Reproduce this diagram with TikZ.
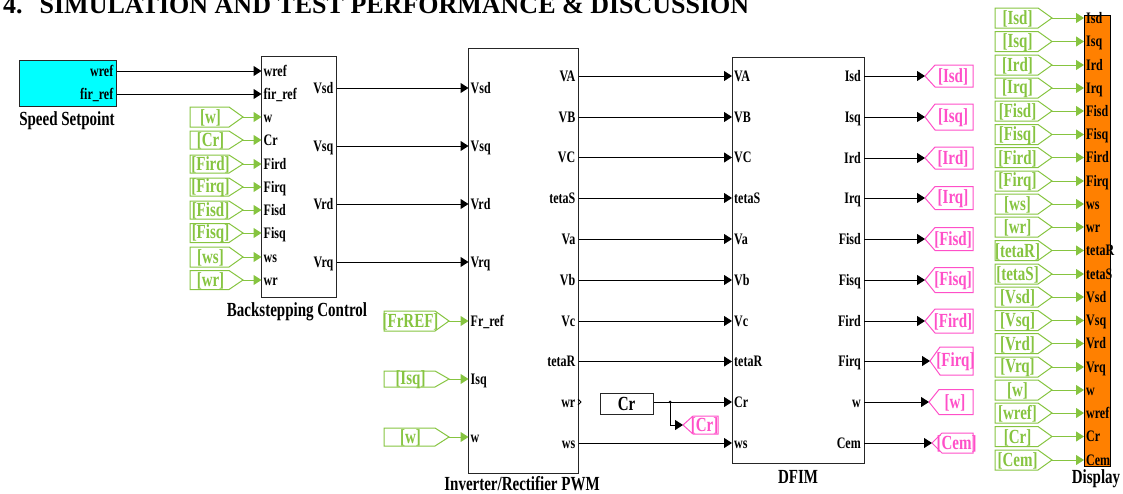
\documentclass[tikz,border=0pt]{standalone}
\usepackage{fontspec}
\setmainfont{Liberation Serif}[FakeStretch=0.75]
\newfontfamily\titlefont{Liberation Serif}
\usetikzlibrary{arrows.meta}
\definecolor{tagg}{HTML}{86C440}
\definecolor{tagp}{HTML}{FF4FC8}
\definecolor{blockorange}{HTML}{FF8000}
\definecolor{blockcyan}{HTML}{00FFFF}
\tikzset{
  x=1pt,y=-1pt,
  block/.style={draw=black!85,line width=1pt},
  pinbase/.style={inner xsep=2pt,inner ysep=0pt,text height=10.5pt,text depth=0pt,font=\fontsize{16}{16}\bfseries\selectfont},
  inpin/.style={pinbase,anchor=west},
  outpin/.style={pinbase,anchor=east,inner xsep=3pt},
  caption/.style={inner sep=0pt,font=\fontsize{20}{20}\bfseries\selectfont},
  sig/.style={line width=1pt,-{Triangle[length=8pt,width=10pt]},black},
  sigg/.style={line width=1pt,-{Triangle[length=8pt,width=10pt]},tagg},
  tagtext/.style={inner sep=0pt,font=\fontsize{20}{20}\bfseries\selectfont},
}
% green source tag: name, left x, tip x, y, half height, text
\newcommand\gtag[6]{%
  \draw[tagg,line width=1pt] (#2,#4-#5) -- (#3-14,#4-#5) -- (#3,#4) -- (#3-14,#4+#5) -- (#2,#4+#5) -- cycle;
  \node[tagtext,text=tagg] (#1) at ({(#2+#3-12)/2},#4+1) {#6};
  \coordinate (#1-tip) at (#3,#4);}
% pink sink tag: name, tip x, right x, y, half height, text
\newcommand\ptag[6]{%
  \draw[tagp,line width=1pt] (#3,#4-#5) -- (#2+10,#4-#5) -- (#2,#4) -- (#2+10,#4+#5) -- (#3,#4+#5) -- cycle;
  \node[tagtext,text=tagp] (#1) at ({(#2+#3+8)/2},#4+1) {#6};
  \coordinate (#1-tip) at (#2,#4);}
\begin{document}
\begin{tikzpicture}
\useasboundingbox (0,0) rectangle (1123,493);
\node[anchor=base west,inner sep=0pt,font=\titlefont\fontsize{26}{26}\bfseries\selectfont] (title) at (3,13.5) {4.\hspace{17pt}SIMULATION AND TEST PERFORMANCE \& DISCUSSION};

% blocks
\node[block,fill=blockcyan,line width=1.4pt,minimum width=97pt,minimum height=46pt,inner sep=0pt] (speed) at (68,83.5) {};
\node[block,fill=white,minimum width=75pt,minimum height=241pt,inner sep=0pt] (back) at (299,176.5) {};
\node[block,fill=white,minimum width=110pt,minimum height=425pt,inner sep=0pt] (inv) at (523.5,260.5) {};
\node[block,fill=white,minimum width=132pt,minimum height=406pt,inner sep=0pt] (dfim) at (798,260) {};
\node[block,fill=blockorange,draw=black,minimum width=26pt,minimum height=451pt,inner sep=0pt] (disp) at (1097,240.5) {};
\node[block,fill=white,minimum width=53pt,minimum height=21pt,inner sep=0pt,font=\fontsize{20}{20}\bfseries\selectfont] (crb) at (626.5,403.5) {Cr};

% captions
\node[caption] (capspeed) at (67,121) {Speed Setpoint};
\node[caption] (capback) at (297,312) {Backstepping Control};
\node[caption] (capinv) at (522,483.5) {Inverter/Rectifier PWM};
\node[caption] (capdfim) at (798,477) {DFIM};
\node[caption] (capdisp) at (1096,479) {Display};

% speed setpoint ports
\node[outpin] (s1) at (116.5,71) {wref};
\node[outpin] (s2) at (116.5,94) {fir\_ref};

% backstepping inputs
\foreach \n/\t/\y in {b1/wref/71,b2/fir\_ref/94,b3/w/117,b4/Cr/140,b5/Fird/164,b6/Firq/187,b7/Fisd/210,b8/Fisq/233,b9/ws/257,b10/wr/280}
  \node[inpin] (\n) at (261.5,\y) {\t};
% backstepping outputs
\foreach \n/\t/\y in {bo1/Vsd/88,bo2/Vsq/146,bo3/Vrd/204,bo4/Vrq/262}
  \node[outpin] (\n) at (336.5,\y) {\t};
% inverter inputs
\foreach \n/\t/\y in {i1/Vsd/88,i2/Vsq/146,i3/Vrd/204,i4/Vrq/262,i5/Fr\_ref/321,i6/Isq/379,i7/w/437}
  \node[inpin] (\n) at (468.5,\y) {\t};
% inverter outputs
\foreach \n/\t/\y in {io1/VA/76,io2/VB/117,io3/VC/157.5,io4/tetaS/198,io5/Va/239,io6/Vb/280,io7/Vc/321,io8/tetaR/361.5,io9/wr/402,io10/ws/443}
  \node[outpin] (\n) at (578.5,\y) {\t};
% dfim inputs
\foreach \n/\t/\y in {d1/VA/76,d2/VB/117,d3/VC/157.5,d4/tetaS/198,d5/Va/239,d6/Vb/280,d7/Vc/321,d8/tetaR/361.5,d9/Cr/402,d10/ws/443}
  \node[inpin] (\n) at (732,\y) {\t};
% dfim outputs
\foreach \n/\t/\y in {do1/Isd/76,do2/Isq/117,do3/Ird/158,do4/Irq/198,do5/Fisd/239,do6/Fisq/280,do7/Fird/321,do8/Firq/361,do9/w/402,do10/Cem/443}
  \node[outpin] (\n) at (864,\y) {\t};

% connectors between blocks
\draw[sig] (s1.east) -- (b1.west);
\draw[sig] (s2.east) -- (b2.west);
\foreach \a/\b in {bo1/i1,bo2/i2,bo3/i3,bo4/i4}
  \draw[sig] (\a.east) -- (\b.west);
\foreach \i in {1,...,8,10}
  \draw[sig] (io\i.east) -- (d\i.west);
% small open terminal at wr
\draw[black,line width=.9pt] (io9.east) ++(-.5,-3) -- ++(3,3) -- ++(-3,3);

% Cr constant and branch
\coordinate (crj) at (670,402);
\coordinate (crk) at (670,425);
\draw[sig] (crb.east |- d9.west) -- (d9.west);
\fill (crj) circle (1.5pt);
\ptag{tcr}{683}{718}{425}{9}{[Cr]}
\draw[sig] (crj) -- (crk) -- (tcr-tip);

% green tags on backstepping
\gtag{g3}{190}{243}{117}{10}{[w]}
\gtag{g4}{190}{243}{140}{9}{[Cr]}
\gtag{g5}{190}{243}{164}{9}{[Fird]}
\gtag{g6}{190}{243}{187}{9}{[Firq]}
\gtag{g7}{190}{243}{210}{9}{[Fisd]}
\gtag{g8}{190}{243}{233}{9.5}{[Fisq]}
\gtag{g9}{190}{243}{257}{10}{[ws]}
\gtag{g10}{190}{243}{280}{9.5}{[wr]}
\foreach \i in {3,...,10}
  \draw[sigg] (g\i-tip) -- (b\i.west);

% green tags on inverter
\gtag{h5}{384}{449}{321}{10}{[FrREF]}
\gtag{h6}{384}{449}{379}{8}{[Isq]}
\gtag{h7}{384}{449}{437}{9}{[w]}
\foreach \i in {5,6,7}
  \draw[sigg] (h\i-tip) -- (i\i.west);

% pink tags on dfim
\ptag{p1}{925}{973}{76}{11}{[Isd]}
\ptag{p2}{925}{973}{117}{13}{[Isq]}
\ptag{p3}{925}{973}{158}{11}{[Ird]}
\ptag{p4}{925}{973}{198}{11.5}{[Irq]}
\ptag{p5}{925}{973}{239}{11.5}{[Fisd]}
\ptag{p6}{925}{973}{280}{12.5}{[Fisq]}
\ptag{p7}{925}{973}{321}{12}{[Fird]}
\ptag{p8}{930}{973}{361}{14}{[Firq]}
\ptag{p9}{929}{973}{402}{12.5}{[w]}
\ptag{p10}{932}{973}{443}{10}{[Cem]}
\foreach \i in {1,...,10}
  \draw[sig] (do\i.east) -- (p\i-tip);

% display
\foreach \i/\t/\y in {1/Isd/18,2/Isq/41.5,3/Ird/65,4/Irq/88,5/Fisd/111,6/Fisq/134.5,7/Fird/157.5,8/Firq/181,9/ws/204,10/wr/227,11/tetaR/250.5,12/tetaS/274,13/Vsd/297,14/Vsq/320.5,15/Vrd/343.5,16/Vrq/367,17/w/390,18/wref/413,19/Cr/436.5,20/Cem/460}{
  \node[inpin] (q\i) at (1084,\y) {\t};
  \gtag{r\i}{995}{1052}{\y}{10}{[\t]}
  \draw[sigg] (r\i-tip) -- (q\i.west);
}
\end{tikzpicture}
\end{document}
